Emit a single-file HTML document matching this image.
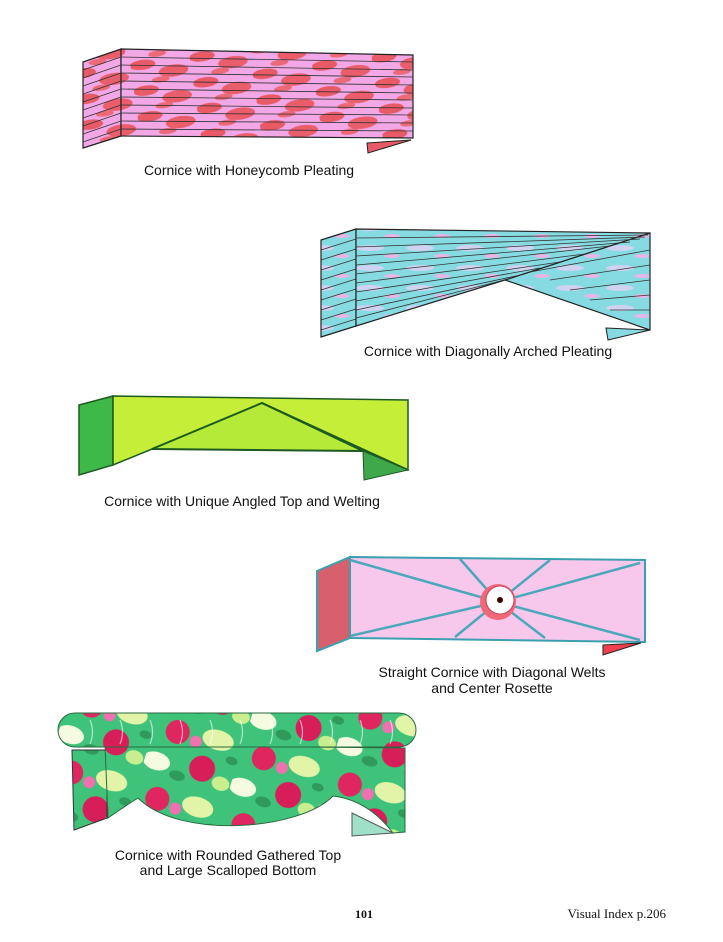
<!DOCTYPE html>
<html><head><meta charset="utf-8"><style>
html,body{margin:0;padding:0;background:#fff}
svg{display:block}
text{font-family:"Liberation Sans",sans-serif;font-size:14px;fill:#111}
</style></head><body>
<svg width="723" height="942" viewBox="0 0 723 942" xmlns="http://www.w3.org/2000/svg">
<defs>
<pattern id="hc" width="60" height="26" patternUnits="userSpaceOnUse" patternTransform="rotate(-8)">
<rect width="60" height="26" fill="#f2a8e6"/>
<ellipse cx="12" cy="6" rx="13" ry="5" fill="#e85a66"/>
<ellipse cx="42" cy="16" rx="15" ry="6" fill="#ea5e6c"/>
<ellipse cx="28" cy="23" rx="9" ry="3" fill="#ec6a78"/>
</pattern>
<pattern id="cy" width="50" height="20" patternUnits="userSpaceOnUse">
<rect width="50" height="20" fill="#86dbe2"/>
<ellipse cx="20" cy="8" rx="14" ry="3" fill="#cfd2f0"/>
<ellipse cx="42" cy="16" rx="8" ry="2" fill="#e6b6e6"/>
</pattern>
<pattern id="fl" width="90" height="70" patternUnits="userSpaceOnUse" patternTransform="rotate(17)">
<rect width="90" height="70" fill="#3fc27a"/>
<ellipse cx="65" cy="14" rx="16" ry="10" fill="#e2f4a8"/>
<ellipse cx="12" cy="52" rx="14" ry="9" fill="#f4fbe0"/>
<ellipse cx="80" cy="55" rx="9" ry="7" fill="#c8ee90"/>
<circle cx="24" cy="18" r="12" fill="#e0265e"/>
<circle cx="58" cy="46" r="13" fill="#d81e58"/>
<circle cx="44" cy="22" r="6" fill="#f070b0"/>
<ellipse cx="36" cy="60" rx="8" ry="5" fill="#2f9a5a"/>
<ellipse cx="84" cy="30" rx="6" ry="4" fill="#2f9a5a"/>
</pattern>
</defs>

<!-- 1 Honeycomb -->
<polygon points="83,62 121,49 121,136 83,148" fill="url(#hc)" stroke="#222" stroke-width="1.2"/>
<polygon points="121,49 413,55 413,138 121,136" fill="url(#hc)" stroke="#222" stroke-width="1.2"/>
<g stroke="#333" stroke-width="0.8">
<line x1="121" y1="57" x2="413" y2="62"/><line x1="121" y1="65" x2="413" y2="70"/><line x1="121" y1="73" x2="413" y2="77"/><line x1="121" y1="81" x2="413" y2="85"/><line x1="121" y1="89" x2="413" y2="93"/><line x1="121" y1="97" x2="413" y2="100"/><line x1="121" y1="105" x2="413" y2="108"/><line x1="121" y1="113" x2="413" y2="115"/><line x1="121" y1="121" x2="413" y2="123"/><line x1="121" y1="129" x2="413" y2="131"/>
<line x1="83" y1="70" x2="121" y2="57"/><line x1="83" y1="78" x2="121" y2="65"/><line x1="83" y1="86" x2="121" y2="73"/><line x1="83" y1="94" x2="121" y2="81"/><line x1="83" y1="102" x2="121" y2="89"/><line x1="83" y1="110" x2="121" y2="97"/><line x1="83" y1="118" x2="121" y2="105"/><line x1="83" y1="126" x2="121" y2="113"/><line x1="83" y1="134" x2="121" y2="121"/><line x1="83" y1="142" x2="121" y2="129"/>
</g>
<polygon points="367,143 411,140 368,153" fill="#e85a66" stroke="#222"/>
<text x="249" y="175" text-anchor="middle">Cornice with Honeycomb Pleating</text>

<!-- 2 Diagonal -->
<polygon points="321,240 356,229 356,326 321,337" fill="url(#cy)" stroke="#222" stroke-width="1.2"/>
<polygon points="505,280 650,233 650,330" fill="url(#cy)" stroke="#222" stroke-width="1.2"/>
<polygon points="356,229 650,233 505,280 356,326" fill="url(#cy)" stroke="#222" stroke-width="1.2"/>
<g stroke="#333" stroke-width="0.8">
<line x1="356" y1="238" x2="648" y2="235"/><line x1="356" y1="247" x2="645" y2="237"/><line x1="356" y1="256" x2="640" y2="239"/><line x1="356" y1="265" x2="630" y2="242"/><line x1="356" y1="274" x2="610" y2="246"/><line x1="356" y1="283" x2="585" y2="254"/><line x1="356" y1="292" x2="560" y2="262"/><line x1="356" y1="301" x2="540" y2="268"/><line x1="356" y1="310" x2="525" y2="274"/><line x1="356" y1="318" x2="512" y2="278"/>
<line x1="530" y1="272" x2="650" y2="250"/><line x1="550" y1="280" x2="650" y2="265"/><line x1="570" y1="290" x2="650" y2="280"/><line x1="590" y1="300" x2="650" y2="295"/><line x1="610" y1="310" x2="650" y2="310"/>
<line x1="321" y1="250" x2="356" y2="239"/><line x1="321" y1="260" x2="356" y2="249"/><line x1="321" y1="270" x2="356" y2="259"/><line x1="321" y1="280" x2="356" y2="269"/><line x1="321" y1="290" x2="356" y2="279"/><line x1="321" y1="300" x2="356" y2="289"/><line x1="321" y1="310" x2="356" y2="299"/><line x1="321" y1="320" x2="356" y2="309"/><line x1="321" y1="330" x2="356" y2="319"/>
</g>
<polygon points="606,328 650,330 608,340" fill="#86dbe2" stroke="#222"/>
<text x="488" y="356" text-anchor="middle">Cornice with Diagonally Arched Pleating</text>

<!-- 3 Green -->
<polygon points="79,405 113,396 113,465 79,475" fill="#3fb84a" stroke="#1d5a22" stroke-width="1.5"/>
<polygon points="113,396 408,400 408,470 363,451 152,449 113,465" fill="#c4ee38" stroke="#1d5a22" stroke-width="1.5"/>
<polygon points="152,449 262,403 363,451" fill="#b6ea38" stroke="#1d5a22" stroke-width="2"/>
<line x1="262" y1="403" x2="408" y2="470" stroke="#1d5a22" stroke-width="2"/>
<polygon points="363,451 408,470 364,480" fill="#3fa84a" stroke="#1d5a22"/>
<text x="242" y="506" text-anchor="middle">Cornice with Unique Angled Top and Welting</text>

<!-- 4 Pink rosette -->
<polygon points="317,571 350,557 350,638 317,651" fill="#d8606c" stroke="#3aa0b0" stroke-width="2"/>
<polygon points="350,557 645,560 645,642 350,638" fill="#f8c8ec" stroke="#3aa0b0" stroke-width="2"/>
<g stroke="#4aa8b8" stroke-width="2.5">
<line x1="350" y1="560" x2="498" y2="602"/><line x1="460" y1="559" x2="498" y2="602"/><line x1="550" y1="560" x2="498" y2="602"/><line x1="640" y1="563" x2="498" y2="602"/>
<line x1="350" y1="636" x2="498" y2="602"/><line x1="455" y1="637" x2="498" y2="602"/><line x1="545" y1="638" x2="498" y2="602"/><line x1="640" y1="640" x2="498" y2="602"/>
</g>
<circle cx="498" cy="602" r="18" fill="#f06878"/>
<circle cx="500" cy="600" r="14" fill="#fff" stroke="#c04060"/>
<circle cx="500" cy="600" r="3" fill="#400"/>
<polygon points="603,645 641,643 603,655" fill="#f04050" stroke="#222"/>
<text x="492" y="677" text-anchor="middle">Straight Cornice with Diagonal Welts</text>
<text x="492" y="693" text-anchor="middle">and Center Rosette</text>

<!-- 5 Floral -->
<polygon points="352,813 393,833 352,836" fill="#9fe0c8" stroke="#555"/>
<path d="M72,750 L107,750 L107,818 L74,830 Z" fill="url(#fl)" stroke="#333"/>
<path d="M105,745 L405,748 L405,832 L393,833 Q368,800 333,796 C300,830 180,840 138,798 Q122,808 108,818 Z" fill="url(#fl)" stroke="#2a6a40"/>
<rect x="58" y="713" width="358" height="34" rx="17" fill="url(#fl)" stroke="#2a6a40"/>
<g stroke="#fff" stroke-width="1.2" opacity="0.6">
<path d="M90,720 q5,12 0,24 M120,720 q5,12 0,24 M150,720 q5,12 0,24 M180,720 q5,12 0,24 M210,720 q5,12 0,24 M240,720 q5,12 0,24 M270,720 q5,12 0,24 M300,720 q5,12 0,24 M330,720 q5,12 0,24 M360,720 q5,12 0,24 M390,720 q5,12 0,24" fill="none"/>
</g>
<text x="228" y="860" text-anchor="middle">Cornice with Rounded Gathered Top</text>
<text x="228" y="875" text-anchor="middle">and Large Scalloped Bottom</text>

<text x="364" y="918" text-anchor="middle" style="font-family:'Liberation Serif',serif;font-size:12px;font-weight:bold">101</text>
<text x="666" y="918" text-anchor="end" style="font-family:'Liberation Serif',serif;font-size:13px">Visual Index p.206</text>
</svg>
</body></html>
